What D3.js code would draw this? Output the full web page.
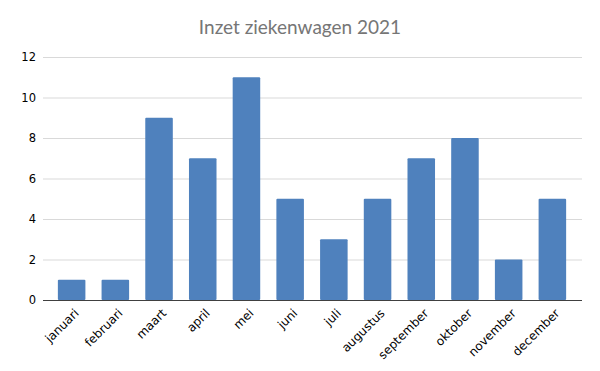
<!DOCTYPE html>
<html>
<head>
<meta charset="utf-8">
<script src="https://cdn.jsdelivr.net/npm/d3@7"></script>
<style>
  body { margin: 0; background: #fff; }
  svg { display: block; }
</style>
</head>
<body>
<div class="chart"></div>
<script>
var months = ["januari", "februari", "maart", "april", "mei", "juni", "juli", "augustus", "september", "oktober", "november", "december"];
var inzet = [1, 1, 9, 7, 11, 5, 3, 5, 7, 8, 2, 5];
var yTicks = [0, 2, 4, 6, 8, 10, 12];
var title = "Inzet ziekenwagen 2021";

var width = 600;
var height = 371;
var plotLeft = 43;
var plotRight = 582;
var plotTop = 57;
var plotBottom = 300;

var svg = d3.select(".chart")
    .append("svg")
    .attr("width", width)
    .attr("height", height);

var x = d3.scaleBand()
    .domain(months)
    .range([50, 574])
    .paddingInner(0.37)
    .paddingOuter(0.18);

var y = d3.scaleLinear()
    .domain([0, 12])
    .range([plotBottom, plotTop]);

// title
svg.append("text")
    .attr("x", 300)
    .attr("y", 34)
    .attr("text-anchor", "middle")
    .style("font-family", "Lato, sans-serif")
    .style("font-size", "19px")
    .attr("fill", "#767676")
    .text(title);

// gridlines
svg.append("g")
    .selectAll("line")
    .data(yTicks.filter(function(d) { return d > 0; }))
    .enter()
    .append("line")
    .attr("x1", plotLeft)
    .attr("x2", plotRight)
    .attr("y1", function(d) { return y(d) + 0.5; })
    .attr("y2", function(d) { return y(d) + 0.5; })
    .attr("stroke", "#d9d9d9")
    .attr("stroke-width", 1);

// y labels
var yAxis = svg.append("g")
    .attr("transform", "translate(" + (plotLeft - 7) + ",0)")
    .call(d3.axisLeft(y).tickValues(yTicks).tickSize(0).tickPadding(0));
yAxis.select(".domain").remove();
yAxis.selectAll("text")
    .style("font-family", "'DejaVu Sans', sans-serif")
    .style("font-size", "11.5px")
    .attr("fill", "#000");

// bars
svg.append("g")
    .selectAll("rect")
    .data(inzet)
    .enter()
    .append("rect")
    .attr("x", function(d, i) { return x(months[i]); })
    .attr("y", function(d) { return y(d); })
    .attr("width", x.bandwidth())
    .attr("height", function(d) { return y(0) - y(d); })
    .attr("rx", 1)
    .attr("fill", "#4f81bd");

// x axis line
svg.append("line")
    .attr("x1", plotLeft)
    .attr("x2", plotRight)
    .attr("y1", plotBottom + 0.5)
    .attr("y2", plotBottom + 0.5)
    .attr("stroke", "#404040")
    .attr("stroke-width", 1.2);

// x labels
var xAxis = svg.append("g")
    .attr("transform", "translate(0," + plotBottom + ")")
    .call(d3.axisBottom(x).tickSize(0).tickPadding(0));
xAxis.select(".domain").remove();
xAxis.selectAll("text")
    .style("font-family", "'DejaVu Sans', sans-serif")
    .style("font-size", "12px")
    .attr("fill", "#000")
    .attr("text-anchor", "end")
    .attr("dy", "0.35em")
    .attr("transform", "translate(5,11) rotate(-45)");
</script>
</body>
</html>
